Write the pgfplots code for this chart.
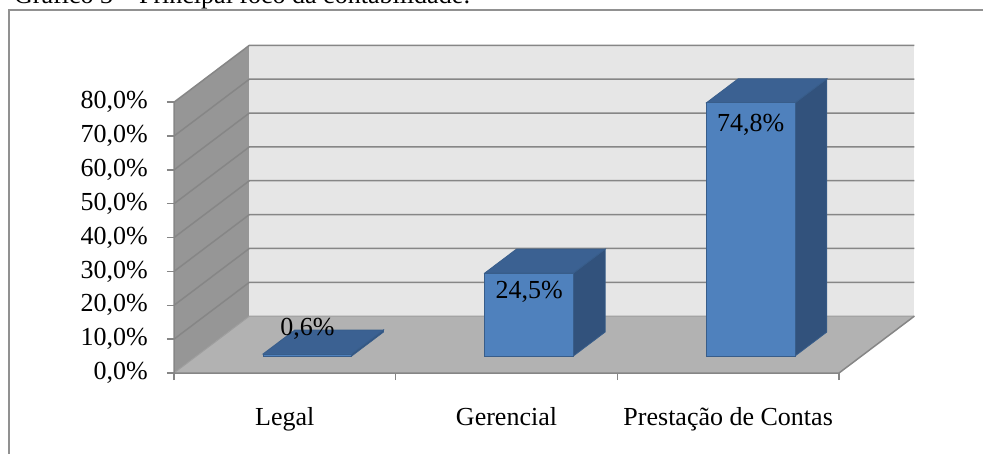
\documentclass[border=0pt]{standalone}
\usepackage{fontspec}
\setmainfont{Liberation Serif}
\usepackage{pgfplots}
\usepackage{pgfplotstable}
\pgfplotsset{compat=1.18}

\definecolor{wallback}{RGB}{230,230,230}
\definecolor{wallside}{RGB}{150,150,150}
\definecolor{floorgray}{RGB}{178,178,178}
\definecolor{gridgray}{RGB}{134,134,134}
\definecolor{framegray}{RGB}{145,145,145}
\definecolor{barfront}{RGB}{79,129,189}
\definecolor{bartop}{RGB}{59,97,146}
\definecolor{barside}{RGB}{50,82,124}
\definecolor{baredge}{RGB}{56,93,138}

% share of respondents by main focus of accounting (%)
% lbl = vertical offset of the value label from the bar top (pt)
\pgfplotstableread{
pos value lbl
0.5 0.6  25
1.5 24.5 -19
2.5 74.8 -22
}\focodata

% depth of the floor / walls (axis units)
\def\Dx{0.34}
\def\Dy{16.8}
% bar front-face offset, bar half width and bar depth (axis units)
\def\Fx{0.102}
\def\Fy{5.04}
\def\Hw{0.20}
\def\Bx{0.143}
\def\By{7.06}

\newcommand\bigfont{\fontsize{26}{30}\selectfont}

\begin{document}
\begin{tikzpicture}
\path[use as bounding box] (0pt,0pt) rectangle (983pt,-454pt);
\node[anchor=base west, inner sep=0pt, font=\bigfont] at (14pt,-4pt)
  {Gráfico 3 – Principal foco da contabilidade:};
\draw[framegray, line width=2pt] (9pt,-454pt) -- (9pt,-10pt) -- (990pt,-10pt);

\begin{axis}[
  at={(174pt,-373pt)}, anchor=south west,
  x=221.67pt, y=3.385pt,
  xmin=0, xmax=3.34, ymin=0, ymax=96.8,
  axis lines*=left,
  axis line style={draw=none},
  clip=false,
  tick align=outside,
  major tick length=7pt,
  tick style={gridgray, line width=1.5pt},
  ytick={0,10,...,80},
  /pgf/number format/.cd, fixed, fixed zerofill, precision=1, use comma,
    assume math mode=true,
  /pgfplots/.cd,
  yticklabel={\pgfmathprintnumber{\tick}\%},
  yticklabel style={font=\bigfont, anchor=east, inner sep=0pt, xshift=-19pt},
  xtick={0,1,2,3},
  xticklabels={},
  extra x ticks={0.5,1.5,2.5},
  extra x tick labels={Legal,Gerencial,Prestação de Contas},
  extra x tick style={major tick length=0pt,
    xticklabel style={font=\bigfont, anchor=base, inner sep=0pt, yshift=-52pt}},
]

% side wall, back wall and floor
\fill[wallside] (axis cs:0,0) -- (axis cs:0,80) -- (axis cs:0.34,96.8) -- (axis cs:0.34,16.8) -- cycle;
\fill[wallback] (axis cs:0.34,16.8) rectangle (axis cs:3.34,96.8);
\fill[floorgray] (axis cs:0,0) -- (axis cs:3,0) -- (axis cs:3.34,16.8) -- (axis cs:0.34,16.8) -- cycle;

% gridlines across side and back walls
\pgfplotsinvokeforeach{10,20,30,40,50,60,70,80}{
  \draw[gridgray, line width=1.5pt] (axis cs:0,#1) -- (axis cs:0.34,#1+16.8) -- (axis cs:3.34,#1+16.8);
}
\draw[gridgray!80, line width=1pt] (axis cs:0,0) -- (axis cs:0.34,16.8) -- (axis cs:3.34,16.8);
% front axis edges
\draw[gridgray, line width=1.5pt] (axis cs:0,80) -- (axis cs:0,0) -- (axis cs:3,0) -- (axis cs:3.34,16.8);

% top and side faces of each bar
\pgfplotsforeachungrouped \i in {0,1,2}{%
  \pgfplotstablegetelem{\i}{pos}\of\focodata \let\xc\pgfplotsretval
  \pgfplotstablegetelem{\i}{value}\of\focodata \let\val\pgfplotsretval
  \pgfmathsetmacro\xl{\xc-\Hw+\Fx}%
  \pgfmathsetmacro\xr{\xc+\Hw+\Fx}%
  \pgfmathsetmacro\xlb{\xl+\Bx}%
  \pgfmathsetmacro\xrb{\xr+\Bx}%
  \pgfmathsetmacro\yb{\Fy}%
  \pgfmathsetmacro\ybb{\Fy+\By}%
  \pgfmathsetmacro\yt{\Fy+\val}%
  \pgfmathsetmacro\ytb{\Fy+\By+\val}%
  \edef\sideface{\noexpand\addplot[draw=baredge, line width=0.8pt, fill=barside, forget plot]
    coordinates {(\xr,\yb) (\xrb,\ybb) (\xrb,\ytb) (\xr,\yt)} -- cycle;}%
  \sideface
  \edef\topface{\noexpand\addplot[draw=baredge, line width=0.8pt, fill=bartop, forget plot]
    coordinates {(\xl,\yt) (\xr,\yt) (\xrb,\ytb) (\xlb,\ytb)} -- cycle;}%
  \topface
}

% front faces with value labels
\addplot[ybar, bar width=0.40, fill=barfront, draw=baredge, line width=0.8pt,
  xshift=22.61pt, yshift=17.06pt,
  nodes near coords={\pgfmathprintnumber{\pgfplotspointmeta}\%},
  visualization depends on={\thisrow{lbl} \as \lblshift},
  every node near coord/.append style={font=\bigfont, black, anchor=center,
    inner sep=0pt, yshift=\lblshift}]
  table[x=pos, y=value] {\focodata};

\end{axis}
\end{tikzpicture}
\end{document}
